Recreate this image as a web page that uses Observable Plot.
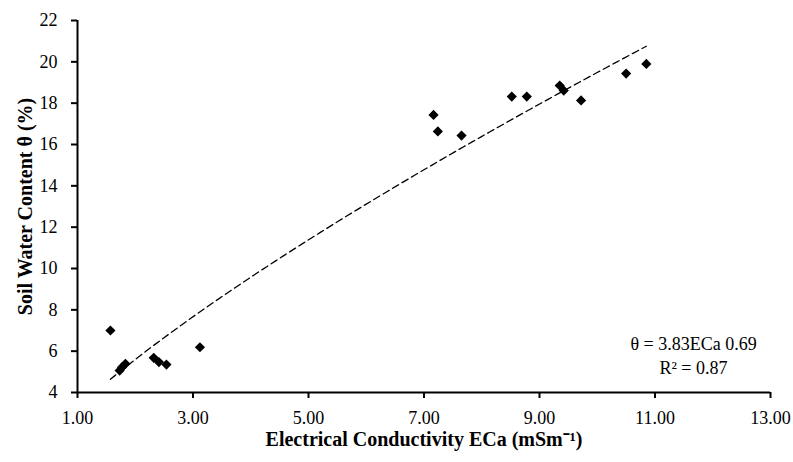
<!DOCTYPE html>
<html><head><meta charset="utf-8">
<script src="https://cdn.jsdelivr.net/npm/d3@7"></script>
<script src="https://cdn.jsdelivr.net/npm/@observablehq/plot@0.6"></script>
<style>body{margin:0;background:#fff}</style>
</head><body><div id="chart"></div>
<script>
const eca   = [1.57, 1.73, 1.77, 1.83, 2.32, 2.41, 2.54, 3.12, 7.165, 7.24, 7.65, 8.52, 8.78, 9.35, 9.42, 9.72, 10.50, 10.85];
const theta = [7.00, 5.06, 5.22, 5.39, 5.68, 5.47, 5.35, 6.19, 17.43, 16.63, 16.43, 18.32, 18.32, 18.85, 18.61, 18.13, 19.43, 19.90];
const xTicks = [1, 3, 5, 7, 9, 11, 13];
const yTicks = [4, 6, 8, 10, 12, 14, 16, 18, 20, 22];
const xLabel = "Electrical Conductivity ECa (mSm⁻¹)";
const yLabel = "Soil Water Content θ (%)";
const equationText = ["θ = 3.83ECa 0.69", "R² = 0.87"];

const points = eca.map((x, i) => ({x, y: theta[i]}));
// power trendline from log-log least squares on the data
const lx = eca.map(Math.log), ly = theta.map(Math.log);
const mx = d3.mean(lx), my = d3.mean(ly);
const b = d3.sum(lx, (v, i) => (v - mx) * (ly[i] - my)) / d3.sum(lx, v => (v - mx) ** 2);
const a = Math.exp(my - b * mx);
const [x0, x1] = d3.extent(eca);
const fit = d3.range(0, 121).map(i => { const x = x0 + (x1 - x0) * i / 120; return {x, y: a * Math.pow(x, b)}; });

const chart = Plot.plot({
  width: 793, height: 462,
  marginLeft: 77, marginRight: 23, marginTop: 20, marginBottom: 70,
  style: {fontFamily: "'Liberation Serif', serif", fontSize: "18px", color: "#000", background: "#fff"},
  x: {domain: [1, 13]},
  y: {domain: [4, 22]},
  marks: [
    Plot.axisX(xTicks, {tickFormat: d => d.toFixed(2), tickSize: 6, tickPadding: 13, strokeWidth: 2, label: null, fontSize: 18}),
    Plot.axisY(yTicks, {tickSize: 6, tickPadding: 14, strokeWidth: 2, label: null, fontSize: 18}),
    Plot.ruleX([1], {stroke: "#000", strokeWidth: 2}),
    Plot.ruleY([4], {stroke: "#000", strokeWidth: 2}),
    Plot.line(fit, {x: "x", y: "y", stroke: "#000", strokeWidth: 1.3, strokeDasharray: "7,4"}),
    Plot.dot(points, {x: "x", y: "y", symbol: "diamond2", r: 4.6, fill: "#000", stroke: "none"}),
    Plot.text([xLabel], {frameAnchor: "bottom", textAnchor: "middle", dy: 53, fontWeight: "bold", fontSize: 20}),
    Plot.text([yLabel], {frameAnchor: "left", textAnchor: "middle", dx: -52, rotate: -90, fontWeight: "bold", fontSize: 20}),
    Plot.text([equationText.join("\n")], {frameAnchor: "bottom-right", textAnchor: "middle", lineAnchor: "middle", dx: -77, dy: -38, lineHeight: 1.3, fontSize: 18})
  ]
});
document.getElementById("chart").append(chart);
</script>
</body></html>
